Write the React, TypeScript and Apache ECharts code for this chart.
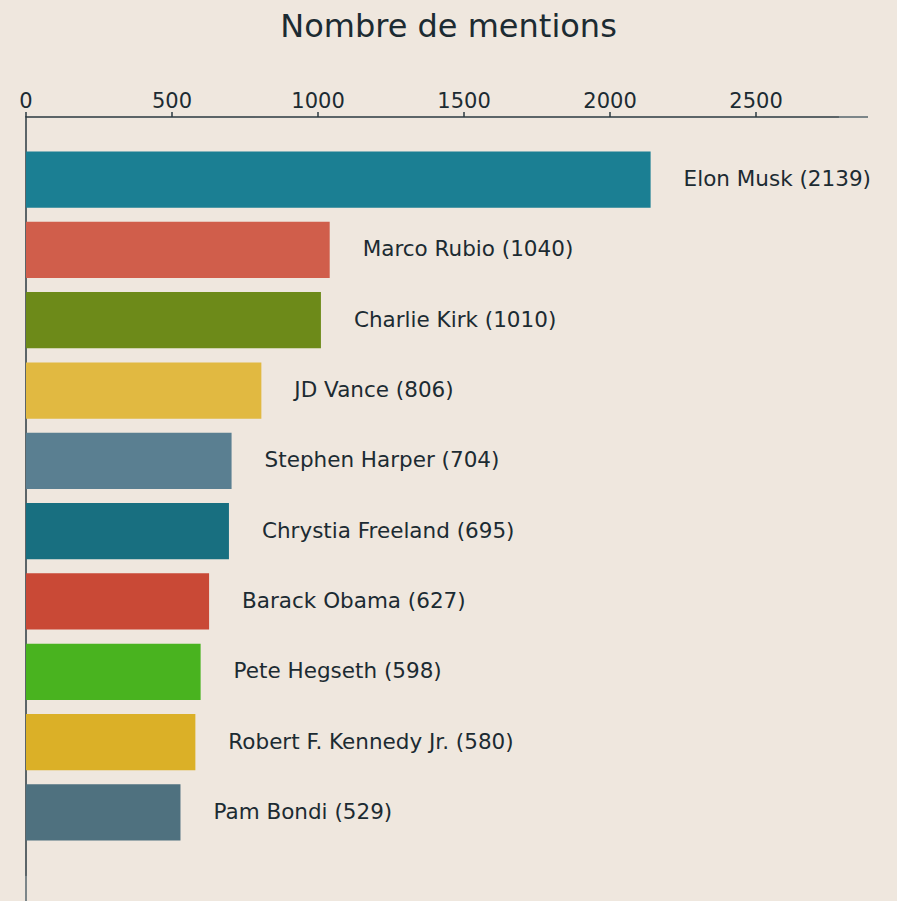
import React, { useEffect, useRef } from "react";
import * as echarts from "echarts";

const names = [
  "Elon Musk",
  "Marco Rubio",
  "Charlie Kirk",
  "JD Vance",
  "Stephen Harper",
  "Chrystia Freeland",
  "Barack Obama",
  "Pete Hegseth",
  "Robert F. Kennedy Jr.",
  "Pam Bondi",
];
const mentions = [2139, 1040, 1010, 806, 704, 695, 627, 598, 580, 529];
const colors = [
  "#1b7f93",
  "#d05e4b",
  "#6d8a19",
  "#e1b941",
  "#5a7f91",
  "#186f80",
  "#c94936",
  "#49b31f",
  "#dbb027",
  "#4f717f",
];
const tickValues = [0, 500, 1000, 1500, 2000, 2500];
const title = "Nombre de mentions";

const FONT = "DejaVu Sans";
const DARK = "#1c2b32";
const AXIS = "#2b3a40";

export default function App() {
  const ref = useRef<HTMLDivElement>(null);
  useEffect(() => {
    if (!ref.current) return;
    const chart = echarts.init(ref.current, null, { renderer: "svg" });
    const xMax = Math.max(...mentions) * 1.3;
    const n = mentions.length;
    const yMin = -0.4 - 0.05 * (n - 1 + 0.8);
    const yMax = n - 1 + 0.4 + 0.05 * (n - 1 + 0.8);
    chart.setOption({
      animation: false,
      backgroundColor: "#efe7de",
      title: {
        text: title,
        left: "center",
        top: 5,
        textStyle: { fontFamily: FONT, fontSize: 32, fontWeight: "normal", color: DARK },
      },
      grid: { left: 26, right: 59, top: 117, bottom: 26 },
      xAxis: {
        type: "value",
        position: "top",
        min: 0,
        max: xMax,
        interval: 500,
        axisLine: { show: true, onZero: false, lineStyle: { color: AXIS, width: 1.5 } },
        axisTick: {
          show: true,
          length: 5,
          customValues: tickValues,
          lineStyle: { color: AXIS, width: 1.5 },
        },
        axisLabel: {
          customValues: tickValues,
          formatter: (v: number) => String(v),
          fontFamily: FONT,
          fontSize: 21,
          color: DARK,
          margin: 6,
        },
        splitLine: { show: false },
      },
      yAxis: {
        type: "value",
        inverse: true,
        min: yMin,
        max: yMax,
        axisLine: { show: true, onZero: false, lineStyle: { color: AXIS, width: 1.5 } },
        axisTick: { show: false },
        axisLabel: { show: false },
        splitLine: { show: false },
      },
      graphic: [
        {
          type: "line",
          shape: { x1: 838, y1: 117, x2: 868, y2: 117 },
          style: { stroke: "#56666c", lineWidth: 1.5 },
        },
        {
          type: "line",
          shape: { x1: 26, y1: 875, x2: 26, y2: 901 },
          style: { stroke: "#56666c", lineWidth: 1.5 },
        },
      ],
      series: [
        {
          type: "custom",
          data: mentions.map((v, i) => [v, i]),
          renderItem: (params: any, api: any) => {
            const v = api.value(0);
            const i = api.value(1);
            const p0 = api.coord([0, i - 0.4]);
            const p1 = api.coord([v, i + 0.4]);
            const yc = api.coord([v, i])[1];
            const idx = params.dataIndex;
            return {
              type: "group",
              children: [
                {
                  type: "rect",
                  shape: {
                    x: p0[0],
                    y: Math.min(p0[1], p1[1]),
                    width: p1[0] - p0[0],
                    height: Math.abs(p1[1] - p0[1]),
                  },
                  style: { fill: colors[idx] },
                },
                {
                  type: "text",
                  x: p1[0] + 33,
                  y: yc - 1,
                  style: {
                    text: `${names[idx]} (${mentions[idx]})`,
                    fontFamily: FONT,
                    fontSize: 21.5,
                    fill: DARK,
                    verticalAlign: "middle",
                    align: "left",
                  },
                },
              ],
            };
          },
        },
      ],
    });
    return () => chart.dispose();
  }, []);
  return (
    <div
      ref={ref}
      style={{ position: "fixed", left: 0, top: 0, width: 897, height: 901 }}
    />
  );
}
